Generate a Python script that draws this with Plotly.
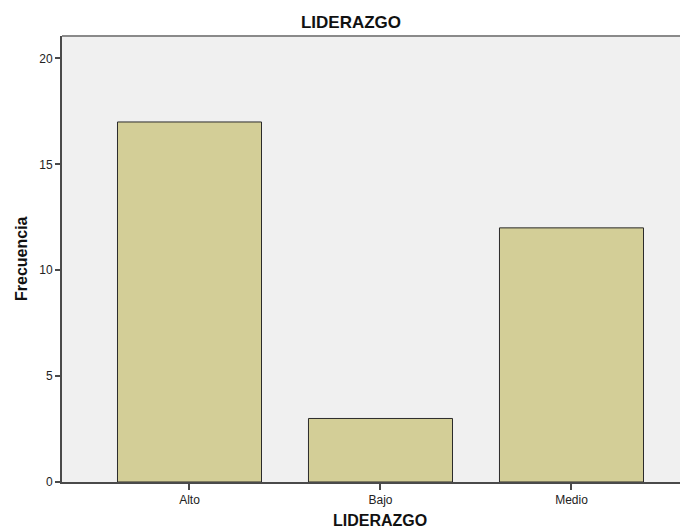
import plotly.graph_objects as go

categories = ["Alto", "Bajo", "Medio"]
frecuencia = [17, 3, 12]
y_ticks = [0, 5, 10, 15, 20]

FONT = "Arial, Liberation Sans, sans-serif"

W, H = 680, 520  # page adds an 8px body margin

fig = go.Figure(
    go.Bar(
        x=categories,
        y=frecuencia,
        width=0.754,
        marker=dict(color="#D3CE97", line=dict(color="#2b2b2b", width=1)),
    )
)

fig.update_layout(
    width=W,
    height=H,
    margin=dict(l=54, r=0, t=28, b=46),
    paper_bgcolor="white",
    plot_bgcolor="#F0F0F0",
    showlegend=False,
    font=dict(family=FONT, color="#222222", size=12),
    title=dict(
        text="<b>LIDERAZGO</b>",
        x=343 / W,
        xref="container",
        xanchor="center",
        y=1 - 14 / H,
        yref="container",
        yanchor="middle",
        font=dict(family=FONT, size=17, color="#111111"),
    ),
    xaxis=dict(
        type="category",
        range=[-0.6675, 2.61],
        showgrid=False,
        showline=True,
        linecolor="#4a4a4a",
        linewidth=2,
        ticks="outside",
        ticklen=6,
        tickwidth=1.5,
        tickcolor="#4a4a4a",
        tickfont=dict(size=12, color="#222222"),
        zeroline=False,
    ),
    yaxis=dict(
        range=[0, 21.06],
        tickvals=y_ticks,
        showgrid=False,
        showline=True,
        linecolor="#4a4a4a",
        linewidth=2,
        ticks="outside",
        ticklen=5,
        tickwidth=1.5,
        tickcolor="#4a4a4a",
        tickfont=dict(size=12, color="#222222"),
        zeroline=False,
    ),
    shapes=[
        dict(
            type="line",
            xref="paper",
            yref="paper",
            x0=0,
            x1=1,
            y0=1,
            y1=1,
            line=dict(color="#8a8a8a", width=2),
        )
    ],
    annotations=[
        dict(
            text="<b>LIDERAZGO</b>",
            xref="x",
            x=1,
            yref="paper",
            y=0,
            yanchor="middle",
            yshift=-38,
            showarrow=False,
            font=dict(size=16, color="#111111"),
        ),
        dict(
            text="<b>Frecuencia</b>",
            xref="paper",
            x=0,
            xanchor="center",
            xshift=-41,
            yref="paper",
            y=0.5,
            textangle=-90,
            showarrow=False,
            font=dict(size=16, color="#111111"),
        ),
    ],
)

fig.write_html("out.html")
